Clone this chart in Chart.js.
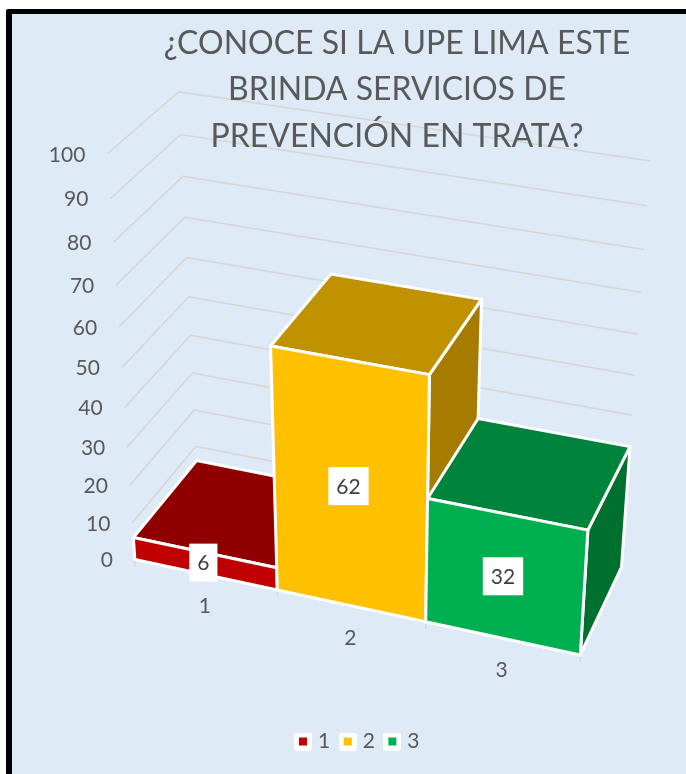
<!DOCTYPE html>
<html><head><meta charset="utf-8">
<style>html,body{margin:0;padding:0;background:#fff;overflow:hidden}canvas{display:block}</style>
</head><body><canvas id="c" width="686" height="774"></canvas>
<script src="https://cdn.jsdelivr.net/npm/chart.js@4"></script>
<script>
// ---- chart data ----
const titleLines = ['¿CONOCE SI LA UPE LIMA ESTE', 'BRINDA SERVICIOS DE', 'PREVENCIÓN EN TRATA?'];
const categories = ['1', '2', '3'];
const values = [6, 62, 32];
const frontColors = ['#C00000', '#FFC000', '#00B050'];
const topColors = ['#900000', '#C19200', '#00843B'];
const sideColors = ['#A60000', '#A67C00', '#00702F'];
const yMin = 0, yMax = 100, yStep = 10;

// ---- 3D camera: maps (category units, value fraction, depth 0..1) to the page ----
const CAM = [
  [136.93578, -38.55802, 74.01489, 134.86096],
  [18.79249, -421.6302, -50.41808, 559.51788],
  [-0.01989, -0.10339, 0.05673, 1]
];
function cam(u, v, d) {
  const q = CAM[2][0]*u + CAM[2][1]*v + CAM[2][2]*d + CAM[2][3];
  return [(CAM[0][0]*u + CAM[0][1]*v + CAM[0][2]*d + CAM[0][3]) / q,
          (CAM[1][0]*u + CAM[1][1]*v + CAM[1][2]*d + CAM[1][3]) / q];
}
// Screen pixels of the (flat) Chart.js scales -> world units
function uOf(chart, px) { const a = chart.chartArea; return (px - a.left) / (a.right - a.left) * categories.length; }
function vOf(chart, py) { const a = chart.chartArea; return (a.bottom - py) / (a.bottom - a.top); }
function poly(ctx, pts, fill) {
  ctx.beginPath();
  pts.forEach((p, i) => i ? ctx.lineTo(p[0], p[1]) : ctx.moveTo(p[0], p[1]));
  ctx.closePath();
  ctx.fillStyle = fill; ctx.fill();
  ctx.strokeStyle = '#FFFFFF'; ctx.lineWidth = 3; ctx.lineJoin = 'round'; ctx.stroke();
}
const FONT = 'Lato, sans-serif';
const TEXT = '#595959';

const scene = {
  id: 'scene',
  afterLayout(chart) {
    chart.titleBlock.left += 24; chart.titleBlock.right += 24;
    chart.legend.left -= 14; chart.legend.right -= 14;
  },
  beforeDraw(chart) {
    const ctx = chart.ctx;
    ctx.save();
    ctx.fillStyle = '#FFFFFF'; ctx.fillRect(0, 0, 686, 774);
    ctx.fillStyle = '#000000';
    ctx.beginPath(); ctx.roundRect(6, 9, 700, 800, 2); ctx.fill();
    ctx.fillStyle = '#DEEAF6'; ctx.fillRect(12, 14, 700, 800);
    // walls
    const y = chart.scales.y, x = chart.scales.x;
    ctx.strokeStyle = '#D6D6D4'; ctx.lineWidth = 1.5;
    y.ticks.forEach(t => {
      const v = vOf(chart, y.getPixelForValue(t.value));
      const a = cam(0, v, 0), b = cam(0, v, 1), c = cam(categories.length, v, 1);
      ctx.beginPath(); ctx.moveTo(a[0], a[1]); ctx.lineTo(b[0], b[1]); ctx.lineTo(c[0], c[1]); ctx.stroke();
    });
    // category tick marks
    const step = x.getPixelForValue(1) - x.getPixelForValue(0);
    for (let i = 0; i <= categories.length; i++) {
      const p = cam(uOf(chart, x.getPixelForValue(0) - step/2 + i*step), 0, 0);
      ctx.beginPath(); ctx.moveTo(p[0], p[1]); ctx.lineTo(p[0], p[1] + 7); ctx.stroke();
    }
    ctx.restore();
  },
  beforeDatasetDraw(chart, args) {
    const ctx = chart.ctx;
    ctx.save();
    chart.getDatasetMeta(args.index).data.forEach((bar, i) => {
      const p = bar.getProps(['x', 'y', 'base', 'width'], true);
      const u0 = uOf(chart, p.x - p.width/2), u1 = uOf(chart, p.x + p.width/2);
      const vt = vOf(chart, p.y), vb = vOf(chart, p.base);
      poly(ctx, [cam(u1, vt, 0), cam(u1, vt, 1), cam(u1, vb, 1), cam(u1, vb, 0)], sideColors[i]);
      poly(ctx, [cam(u0, vt, 0), cam(u0, vt, 1), cam(u1, vt, 1), cam(u1, vt, 0)], topColors[i]);
      poly(ctx, [cam(u0, vb, 0), cam(u0, vt, 0), cam(u1, vt, 0), cam(u1, vb, 0)], frontColors[i]);
    });
    ctx.restore();
    return false;
  },
  afterDatasetsDraw(chart) {
    const ctx = chart.ctx, x = chart.scales.x, y = chart.scales.y;
    ctx.save();
    ctx.font = '21px ' + FONT; ctx.textBaseline = 'middle';
    // value axis labels
    ctx.fillStyle = TEXT; ctx.textAlign = 'right';
    y.ticks.forEach(t => {
      const p = cam(0, vOf(chart, y.getPixelForValue(t.value)), 0);
      ctx.fillText(String(t.value), p[0] - 22, p[1] + 1);
    });
    // category labels
    ctx.textAlign = 'center';
    categories.forEach((c, i) => {
      const p = cam(uOf(chart, x.getPixelForValue(i)), 0, 0);
      ctx.fillText(c, p[0] - 0.5, p[1] + 32);
    });
    // data labels
    chart.getDatasetMeta(0).data.forEach((bar, i) => {
      const b = bar.getProps(['x', 'y', 'base'], true);
      const p = cam(uOf(chart, b.x), (vOf(chart, b.y) + vOf(chart, b.base)) / 2, 0);
      const txt = String(values[i]);
      const w = ctx.measureText(txt).width + 16;
      const cx = p[0] - 1.5, cy = p[1] - 1;
      ctx.fillStyle = '#FFFFFF'; ctx.fillRect(cx - w/2, cy - 19, w, 38);
      ctx.fillStyle = '#404040'; ctx.fillText(txt, cx, cy + 1);
    });
    ctx.restore();
  }
};

function swatch(color) {
  const c = document.createElement('canvas'); c.width = 18; c.height = 18;
  const g = c.getContext('2d');
  g.fillStyle = '#FFFFFF'; g.beginPath(); g.roundRect(0, 0, 18, 18, 3); g.fill();
  g.fillStyle = color; g.fillRect(5, 5, 8, 8);
  return c;
}

new Chart(document.getElementById('c'), {
  type: 'bar',
  data: { labels: categories, datasets: [{ data: values, backgroundColor: frontColors,
    categoryPercentage: 1, barPercentage: 1 }] },
  options: {
    responsive: false, animation: false, devicePixelRatio: 1,
    layout: { padding: { top: 21, bottom: 12, left: 120, right: 60 } },
    scales: {
      x: { display: false, offset: true },
      y: { display: false, min: yMin, max: yMax, ticks: { stepSize: yStep } }
    },
    plugins: {
      tooltip: { enabled: false },
      title: { display: true, text: titleLines, color: TEXT,
        font: { family: FONT, size: 32, weight: 'normal', lineHeight: 1.44 }, padding: { top: 0, bottom: 10 } },
      legend: { display: true, position: 'bottom',
        labels: { color: TEXT, font: { family: FONT, size: 21 }, usePointStyle: true, pointStyleWidth: 9,
          boxWidth: 18, boxHeight: 18, padding: 13,
          generateLabels: () => categories.map((c, i) => ({ text: c, fontColor: TEXT, pointStyle: swatch(frontColors[i]),
            fillStyle: frontColors[i], strokeStyle: frontColors[i], lineWidth: 0, hidden: false, index: i })) } }
    }
  },
  plugins: [scene]
});
</script>
</body></html>
